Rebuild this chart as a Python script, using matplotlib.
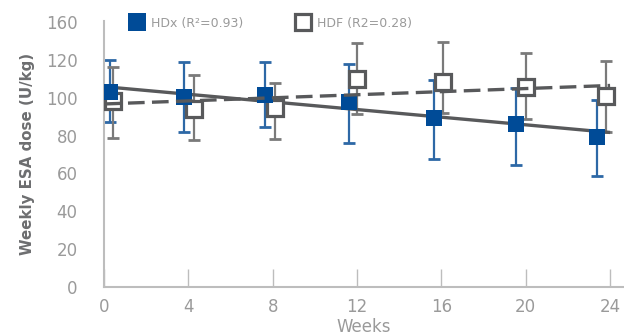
import numpy as np
import matplotlib
matplotlib.use("Agg")
import matplotlib.pyplot as plt
from matplotlib.lines import Line2D
from matplotlib import font_manager as fm

# ---- data ----
weeks = [0, 4, 8, 12, 16, 20, 24]
hdx_mean = [103.0, 100.2, 101.4, 97.5, 89.1, 85.9, 79.0]
hdx_upper = [119.9, 119.0, 119.0, 117.6, 109.5, 105.2, 98.7]
hdx_lower = [87.3, 82.0, 84.6, 76.2, 67.7, 64.6, 58.8]
hdf_mean = [98.0, 94.1, 94.3, 109.8, 108.1, 105.8, 100.8]
hdf_upper = [116.2, 112.1, 107.9, 128.8, 129.4, 123.5, 119.3]
hdf_lower = [78.8, 77.8, 78.3, 91.5, 92.0, 88.9, 82.0]
hdx_offset = [0.3, -0.2, -0.35, -0.4, -0.35, -0.45, -0.6]
hdf_offset = [0.45, 0.25, 0.1, 0.0, 0.1, 0.0, -0.2]
ytick_vals = [0, 20, 40, 60, 80, 100, 120, 140]
ytick_labels = ["0", "20", "40", "60", "80", "100", "120", "160"]
legend_labels = ["HDx (R\u00b2=0.93)", "HDF (R2=0.28)"]

names = {f.name for f in fm.fontManager.ttflist}
NARROW = "Liberation Sans Narrow" if "Liberation Sans Narrow" in names else "DejaVu Sans"

BLUE = "#004b97"
BLUE_BAR = "#2d68a6"
GRAY = "#58595b"
GRAY_BAR = "#7a7a7a"
TXT = "#9a9a9a"

fig = plt.figure(figsize=(6.24, 3.35), dpi=100)
ax = fig.add_axes([104/624, 1-287/335, 520/624, 266/335])

w = np.array(weeks, dtype=float)
xm = w + np.array(hdx_offset)
xf = w + np.array(hdf_offset)
hm = np.array(hdx_mean); hf = np.array(hdf_mean)

# trend lines (linear fits)
xx = np.array([0.0, 24.0])
pm = np.polyfit(w, hm, 1)
pf = np.polyfit(w, hf, 1)
ax.plot(xx, np.polyval(pm, xx), color=GRAY, lw=2.4, zorder=2, solid_capstyle='butt')
ax.plot(xx, np.polyval(pf, xx), color=GRAY, lw=2.4, ls=(0, (5, 2.2)), zorder=5)

# error bars
ax.errorbar(xm, hm, yerr=[hm - np.array(hdx_lower), np.array(hdx_upper) - hm],
            fmt='none', ecolor=BLUE_BAR, elinewidth=1.6, capsize=4.5, capthick=2.0, zorder=1)
ax.errorbar(xf, hf, yerr=[hf - np.array(hdf_lower), np.array(hdf_upper) - hf],
            fmt='none', ecolor=GRAY_BAR, elinewidth=1.6, capsize=4.5, capthick=2.0, zorder=1)

# markers
ax.plot(xf, hf, ls='none', marker='s', ms=11.5, mfc='white', mec=GRAY, mew=2.3, zorder=3)
ax.plot(xm, hm, ls='none', marker='s', ms=12, mfc=BLUE, mec=BLUE, mew=0, zorder=4)

ax.set_xlim(0, 24.66)
ax.set_ylim(0, 140.5)
ax.set_xticks(weeks)
ax.set_xticklabels([str(v) for v in weeks])
ax.set_yticks(ytick_vals)
ax.set_yticklabels(ytick_labels)

for s in ['top', 'right']:
    ax.spines[s].set_visible(False)
for s in ['left', 'bottom']:
    ax.spines[s].set_color("#bdbdbd")
    ax.spines[s].set_linewidth(1.5)

ax.tick_params(axis='x', direction='in', length=13, width=1, color="#bdbdbd",
               labelsize=12, labelcolor=TXT, pad=8)
ax.tick_params(axis='y', length=0, labelsize=12, labelcolor=TXT, pad=19)
for lab in ax.get_xticklabels() + ax.get_yticklabels():
    lab.set_fontfamily(NARROW)

ax.set_xlabel("Weeks", fontsize=12, color=TXT, labelpad=1, fontfamily=NARROW)
ax.set_ylabel("Weekly ESA dose (U/kg)", fontsize=10.8, color="#6d6e70",
              fontweight='bold', labelpad=8, fontfamily=NARROW)

handles = [Line2D([], [], ls='none', marker='s', ms=12.5, mfc=BLUE, mec=BLUE, mew=0),
           Line2D([], [], ls='none', marker='s', ms=12, mfc='white', mec=GRAY, mew=2.3)]
leg = ax.legend(handles, legend_labels, ncol=2, frameon=False, loc='center left',
                bbox_to_anchor=(0.028, 0.992),
                prop={'family': NARROW, 'size': 9}, labelcolor=TXT,
                handletextpad=0.5, columnspacing=4.2, handlelength=1.2)

fig.savefig("out.png", dpi=100)
